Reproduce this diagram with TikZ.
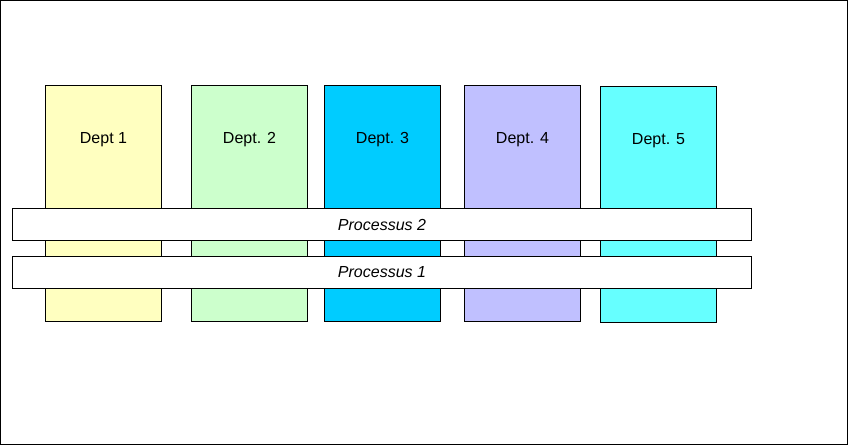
\documentclass[tikz,border=0pt]{standalone}
\usepackage{fontspec}
\setmainfont{Liberation Sans}
\usetikzlibrary{positioning}
\definecolor{deptyellow}{HTML}{FFFFC0}
\definecolor{deptgreen}{HTML}{CCFFCC}
\definecolor{deptblue}{HTML}{00CCFF}
\definecolor{deptlilac}{HTML}{C0C0FF}
\definecolor{deptcyan}{HTML}{66FFFF}

\begin{document}
\begin{tikzpicture}
[x=1pt, y=-1pt, font=\fontsize{16}{19}\selectfont,
% STYLES
% The dept style is used to draw the departments' columns
dept/.style={rectangle, draw, line width=1pt, anchor=north west, inner sep=0pt, minimum width=116pt, minimum height=236pt},
% The process style is used to draw the processes crossing the departments
process/.style={rectangle, draw, line width=1pt, fill=white, anchor=north west, inner sep=0pt, minimum width=739pt, minimum height=32pt, font=\fontsize{16}{19}\selectfont\itshape}]

% Frame
\draw[line width=1pt] (0.5,0.5) rectangle (847.5,444.5);

% Draw departments
\node [dept, fill=deptyellow] (dept1) at (45,85) {};
\node [dept, fill=deptgreen] (dept2) at (191,85) {};
\node [dept, fill=deptblue] (dept3) at (324,85) {};
\node [dept, fill=deptlilac] (dept4) at (464,85) {};
\node [dept, fill=deptcyan] (dept5) at (600,86) {};

% Department names
\node [below=44pt of dept1.north] (name1) {Dept 1};
\node [below=44pt of dept2.north] (name2) {Dept. 2};
\node [below=44pt of dept3.north] (name3) {Dept. 3};
\node [below=44pt of dept4.north] (name4) {Dept. 4};
\node [below=44pt of dept5.north] (name5) {Dept. 5};

% Draw processes
\node [process] (proc2) at (12,208) {Processus 2};
\node [process] (proc1) at (12,256) {Processus 1};

\end{tikzpicture}
\end{document}
